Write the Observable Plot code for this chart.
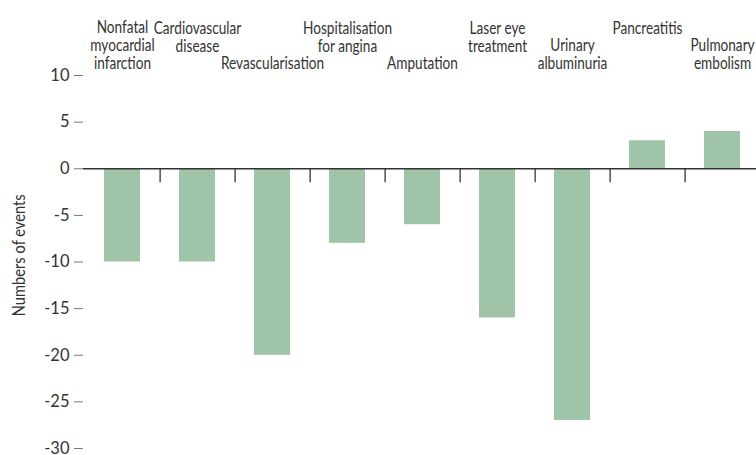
<!DOCTYPE html>
<html>
<head>
<meta charset="utf-8">
<script src="https://cdn.jsdelivr.net/npm/d3@7"></script>
<script src="https://cdn.jsdelivr.net/npm/@observablehq/plot@0.6"></script>
<style>
  html, body { margin: 0; padding: 0; background: #fff; }
  #chart svg { display: block; }
</style>
</head>
<body>
<div id="chart"></div>
<script>
const categories = [
  "Nonfatal myocardial infarction",
  "Cardiovascular disease",
  "Revascularisation",
  "Hospitalisation for angina",
  "Amputation",
  "Laser eye treatment",
  "Urinary albuminuria",
  "Pancreatitis",
  "Pulmonary embolism"
];
const categoryLabels = [
  "Nonfatal\nmyocardial\ninfarction",
  "Cardiovascular\ndisease",
  "Revascularisation",
  "Hospitalisation\nfor angina",
  "Amputation",
  "Laser eye\ntreatment",
  "Urinary\nalbuminuria",
  "Pancreatitis",
  "Pulmonary\nembolism"
];
const values = [-10, -10, -20, -8, -6, -16, -27, 3, 4];
const yTicks = [10, 5, 0, -5, -10, -15, -20, -25, -30];
const yLabel = "Numbers of events";

const data = categories.map((c, i) => ({category: c, label: categoryLabels[i], value: values[i], i}));
const topLabels = data.filter(d => d.i % 2 === 1);
const bottomLabels = data.filter(d => d.i % 2 === 0);
const boundaries = categories.slice(0, -1);

const xRange = [83.4, 760.6];
const step = (xRange[1] - xRange[0]) / categories.length;
const font = "Lato, 'DejaVu Sans Condensed', sans-serif";
const ink = "#333";

const chart = Plot.plot({
  width: 756,
  height: 455,
  marginLeft: 83,
  marginRight: 0,
  marginTop: 75,
  marginBottom: 7,
  style: {fontFamily: font, fontSize: "16px", color: ink, background: "#fff", overflow: "visible"},
  x: {type: "band", domain: categories, range: xRange, paddingInner: 0.52, paddingOuter: 0.26, axis: null},
  y: {domain: [-30, 10], ticks: yTicks, tickFormat: d => String(d)},
  marks: [
    Plot.barY(data, {x: "category", y: "value", fill: "#9fc4a7"}),
    Plot.axisY({ticks: yTicks, tickFormat: d => String(d), tickSize: 9, tickPadding: 5, label: null, stroke: "#777", fill: ink, fontSize: 16.5}),
    Plot.axisY({ticks: [], line: true, label: null, stroke: "#222", strokeWidth: 1.5}),
    Plot.ruleY([0], {stroke: "#333", strokeWidth: 1.5}),
    Plot.ruleX(boundaries, {x: d => d, y1: 0, y2: 0, dx: step / 2, insetBottom: -14, stroke: "#333", strokeWidth: 1.3}),
    Plot.text(topLabels, {x: "category", text: "label", frameAnchor: "top", dy: -54, lineAnchor: "top", lineHeight: 1.09, fill: ink, fontSize: 16.5}),
    Plot.text(bottomLabels, {x: "category", text: "label", frameAnchor: "top", dy: -6.5, lineAnchor: "bottom", lineHeight: 1.09, fill: ink, fontSize: 16.5}),
    Plot.text([yLabel], {text: d => d, frameAnchor: "left", textAnchor: "middle", rotate: -90, dx: -64, dy: -6.7, fill: ink, fontSize: 17})
  ]
});
document.getElementById("chart").appendChild(chart);
// condense the type around each label's own centre to match the narrow face of the original
function condense(group, s) {
  if (!group) return;
  group.querySelectorAll("text").forEach(el => {
    const b = el.getBBox();
    const cx = b.x + b.width / 2;
    const t = el.getAttribute("transform") || "";
    el.setAttribute("transform", `${t} translate(${cx},0) scale(${s},1) translate(${-cx},0)`);
  });
}
const textGroups = chart.querySelectorAll('g[aria-label="text"]');
condense(textGroups[0], 0.825);
condense(textGroups[1], 0.825);
condense(textGroups[2], 0.865);
</script>
</body>
</html>
